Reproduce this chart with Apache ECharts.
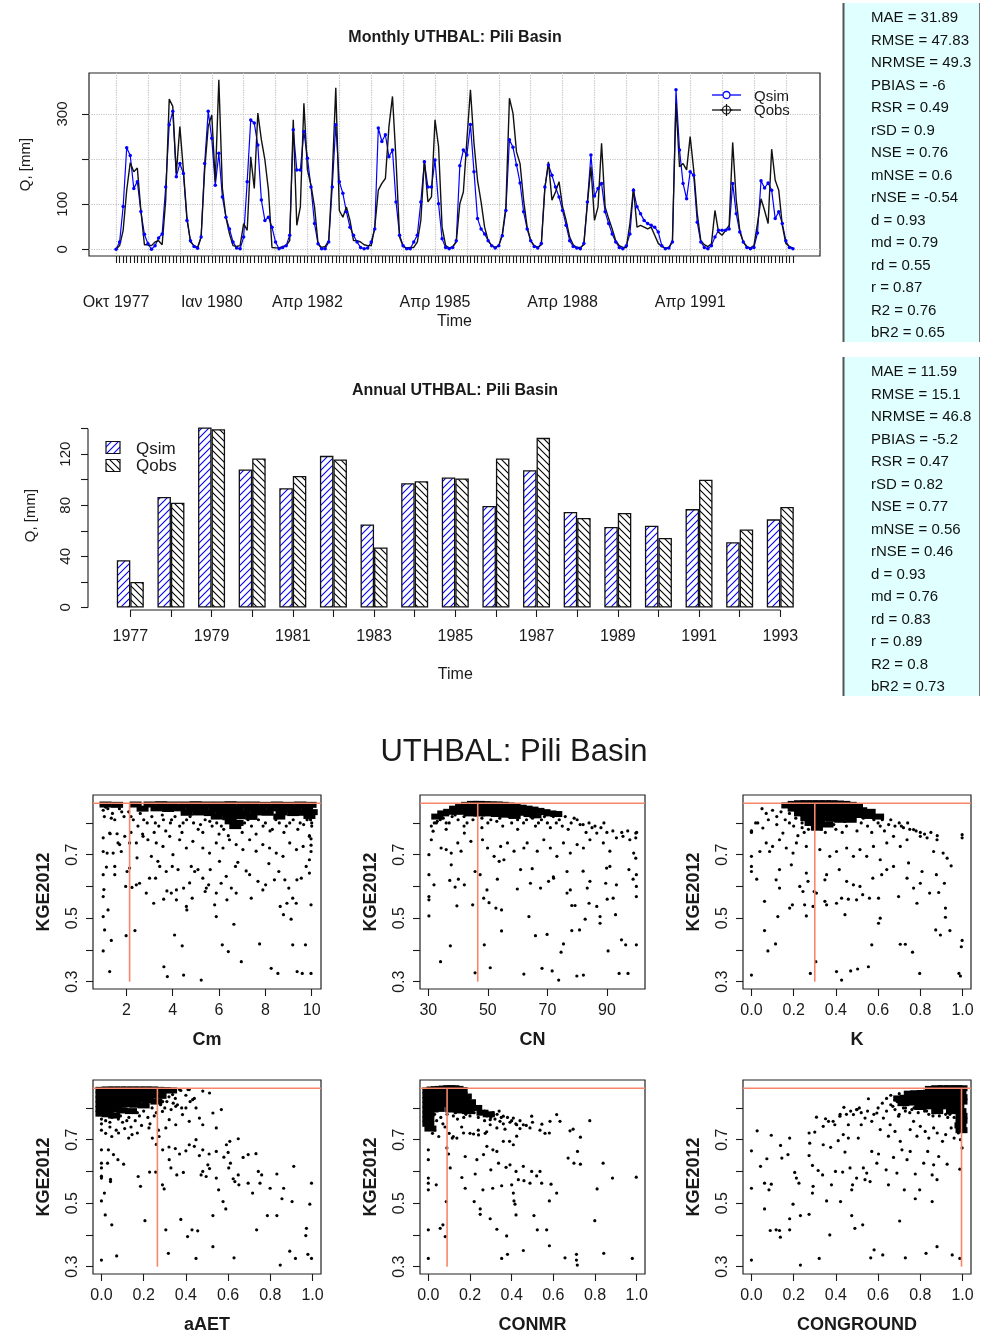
<!DOCTYPE html>
<html>
<head>
<meta charset="utf-8">
<script src="https://cdn.jsdelivr.net/npm/echarts@6/dist/echarts.min.js"></script>
<style>
html, body { margin: 0; background: #fff; }
#main { width: 981px; height: 1333px; }
</style>
</head>
<body>
<div id="main"></div>
<script>
// ---- monthly flows, Oct 1977 .. Sep 1993 (mm) ----
const qsimMonthly = [
  0,16,95,225,208,135,150,84,33,12,0,8,
  25,34,138,276,306,161,190,168,64,19,6,2,
  27,190,306,246,142,213,116,71,45,16,3,1,
  27,150,287,280,231,109,64,71,49,16,1,4,
  8,31,265,176,176,261,202,138,57,12,1,1,
  16,138,276,150,124,83,49,31,16,4,1,3,
  16,45,269,239,254,205,220,105,31,8,1,1,
  16,31,105,194,138,138,198,101,23,4,1,4,
  19,185,220,209,277,172,68,45,34,19,8,3,
  8,30,86,243,226,187,147,83,45,19,6,3,
  13,138,187,164,138,116,86,53,19,6,3,1,
  13,105,209,118,135,146,83,57,34,16,4,1,
  8,34,131,94,79,64,57,53,49,38,8,1,
  3,16,354,220,146,112,172,164,60,16,4,1,
  8,27,42,42,42,45,146,79,38,16,4,1,
  4,36,152,136,147,131,68,83,57,19,4,1
];
const qobsMonthly = [
  0,8,42,131,192,172,180,86,10,10,8,16,
  19,10,109,333,317,168,272,175,71,16,8,4,
  27,176,272,298,150,376,135,71,34,8,6,8,
  57,42,205,135,302,243,198,131,4,3,3,6,
  8,19,287,53,94,324,176,142,94,12,4,6,
  19,161,358,86,71,94,64,19,19,16,10,8,
  8,49,131,146,157,272,339,198,27,6,3,4,
  4,16,64,198,105,116,287,228,49,8,3,6,
  16,101,127,243,354,235,153,105,49,19,8,4,
  8,34,94,335,302,216,190,109,49,19,8,4,
  10,135,194,109,127,150,94,64,27,10,4,4,
  10,101,183,64,94,235,94,68,45,19,8,4,
  4,57,135,49,53,49,45,49,31,13,6,3,
  3,19,324,183,190,176,250,176,79,19,10,6,
  12,86,38,31,42,53,237,109,42,16,6,3,
  8,57,112,86,57,222,153,131,53,13,6,3
];
const monthTickIdx = [0, 27, 54, 90, 126, 162];
const monthTickLabels = ['Οκτ 1977', 'Ιαν 1980', 'Απρ 1982', 'Απρ 1985', 'Απρ 1988', 'Απρ 1991'];

// ---- annual means ----
const years = ['1977','1978','1979','1980','1981','1982','1983','1984','1985','1986','1987','1988','1989','1990','1991','1992','1993'];
const qsimAnnual = [37, 86.5, 141, 108, 93.3, 118.7, 65, 97.3, 101.7, 79.5, 107.5, 74.8, 63, 64, 77, 51, 69];
const qobsAnnual = [20, 82, 139.6, 116.6, 103, 115.8, 47, 98.8, 101, 116.6, 132.8, 70, 74, 54.4, 100, 61, 78.7];

const monthlyStats = ['MAE = 31.89','RMSE = 47.83','NRMSE = 49.3','PBIAS = -6','RSR = 0.49','rSD = 0.9','NSE = 0.76','mNSE = 0.6','rNSE = -0.54','d = 0.93','md = 0.79','rd = 0.55','r = 0.87','R2 = 0.76','bR2 = 0.65'];
const annualStats = ['MAE = 11.59','RMSE = 15.1','NRMSE = 46.8','PBIAS = -5.2','RSR = 0.47','rSD = 0.82','NSE = 0.77','mNSE = 0.56','rNSE = 0.46','d = 0.93','md = 0.76','rd = 0.83','r = 0.89','R2 = 0.8','bR2 = 0.73'];

// ---- dotty plots: parameter value vs KGE2012 ----
const bestKGE = 0.862;
const bestCm = 2.14, bestCN = 46.6, bestK = 0.3, bestAAET = 0.265, bestCONMR = 0.09, bestCONGROUND = 0.995;
const kgeTicks = [0.3, 0.4, 0.5, 0.6, 0.7, 0.8];
const kgeLabels = [0.3, 0.5, 0.7];
const cmTicks = [2, 4, 6, 8, 10];
const cnTicks = [30, 50, 70, 90];
const unitTicks = [0, 0.2, 0.4, 0.6, 0.8, 1.0];

const cmPts = [
  [1.0,.397],[1.28,.332],[1.0,.505],[1.06,.463],[1.21,.526],[1.0,.568],[1.03,.59],[1.0,.637],[1.14,.661],[1.0,.71],[1.17,.705],[1.0,.753],[1.35,.43],[1.43,.705],[1.5,.663],[1.5,.637],[1.64,.737],[1.28,.768],[1.78,.71],[1.93,.758],
  [1.99,.445],[1.97,.6],[2.03,.647],[2.14,.658],[2.24,.597],[2.37,.461],[2.43,.605],[2.46,.69],[2.43,.737],[2.57,.61],[2.86,.579],[2.93,.747],[2.72,.758],[3.0,.626],[3.08,.695],[3.18,.547],[3.26,.626],[3.36,.679],[3.44,.663],[3.61,.56],
  [3.62,.347],[3.77,.316],[3.72,.647],[3.75,.586],[3.94,.579],[3.98,.663],[4.01,.7],[4.08,.447],[4.16,.589],[4.23,.653],[4.16,.558],[4.41,.413],[4.47,.321],[4.47,.595],[4.59,.537],[4.61,.526],[4.73,.611],[4.84,.563],[4.8,.663],[4.95,.647],
  [5.09,.653],[5.23,.305],[5.3,.626],[5.4,.584],[5.45,.595],[5.55,.605],[5.62,.653],[5.81,.542],[5.88,.579],[5.88,.505],[6.02,.679],[6.14,.416],[6.09,.61],[6.31,.632],[6.34,.558],[6.4,.395],[6.53,.595],[6.64,.481],[6.71,.663],[6.74,.579],
  [6.81,.676],[6.96,.363],[7.17,.649],[7.32,.637],[7.39,.563],[7.68,.616],[7.75,.419],[7.89,.589],[8.01,.605],[8.15,.672],[8.25,.342],[8.39,.621],[8.54,.326],[8.58,.647],[8.64,.537],[8.78,.511],[8.84,.621],[8.93,.547],[9.01,.595],[9.11,.497],
  [9.18,.563],[9.18,.416],[9.33,.547],[9.37,.332],[9.36,.621],[9.55,.626],[9.59,.326],[9.73,.416],[9.76,.663],[9.9,.642],[9.97,.542],[9.97,.326],[9.9,.684],[9.97,.71],[9.97,.73],[9.97,.75],
  [1.71,.732],[2.14,.737],[3.29,.737],[3.58,.726],[3.87,.758],[4.3,.747],[4.59,.721],[4.87,.742],[5.3,.721],[5.59,.705],[5.88,.737],[6.17,.721],[6.45,.747],[6.74,.732],[7.03,.716],[7.32,.747],[7.6,.711],[7.89,.732],[8.18,.721],[8.47,.705],
  [8.76,.695],[9.05,.737],[9.34,.716],[9.63,.726],[9.9,.758],
  [1.0,.84],[1.05,.82],[1.2,.845],[1.4,.83],[1.5,.81],[1.7,.845],[1.9,.82],[2.1,.835],[2.3,.81],[2.5,.79],[2.6,.83],[2.9,.8],[3.1,.82],[3.4,.79],[3.6,.81],[3.9,.8],[4.1,.82],[4.3,.79],[4.6,.81],[4.9,.8],
  [5.1,.78],[5.4,.81],[5.7,.79],[5.9,.8],[6.2,.78],[7.1,.8],[7.4,.79],[7.7,.81],[8.0,.8],[8.3,.78],[8.6,.8],[8.9,.79],[9.2,.81],[9.5,.8],[9.8,.81],[10,.8],[10,.79],[1.3,.766],[1.6,.766],[2.2,.77],
  [2.7,.765],[3.2,.77],[3.7,.775],[4.4,.77],[5.3,.77],[6.0,.765],[6.4,.76],[7.0,.77],[7.6,.765],[8.2,.775],[8.8,.77],[9.4,.78],[9.9,.76],
  [1.1,.85],[1.35,.815],[1.8,.835],[2.2,.82],[2.75,.81],[3.25,.8],[3.55,.825],[3.95,.81],[4.45,.8],[4.75,.82],[5.2,.795],[5.6,.805],[6.1,.79],[7.25,.81],[7.9,.79],[8.45,.81],[9.05,.8],[9.65,.795],[9.95,.81],[10,.82]
];
const cmCore = [
  [1.1,.858],[1.6,.857],[2.4,.858],[3.0,.858],[3.5,.859],[4.0,.858],[4.5,.858],[5.0,.859],[5.5,.858],[6.0,.858],[6.5,.859],[7.0,.858],[7.5,.858],[8.0,.857],[8.5,.858],[9.0,.857],[9.5,.858],[9.95,.857],
  [2.7,.845],[3.3,.846],[3.8,.844],[4.3,.846],[4.8,.845],[5.3,.846],[5.8,.844],[6.3,.846],[6.8,.845],[7.3,.846],[7.8,.844],[8.3,.846],[8.8,.845],[9.3,.844],[9.8,.846],
  [4.6,.832],[5.1,.833],[5.6,.831],[6.1,.833],[6.6,.832],[7.1,.831],[7.6,.833],[8.1,.832],[8.7,.833],[9.2,.831],[9.7,.832],[10,.834],
  [5.9,.82],[6.4,.818],[6.9,.821],[7.4,.819],[8.6,.82],[9.9,.822],[6.5,.805],[6.8,.8],[6.7,.79]
];

const cnPts = [
  [30.2,.507],[30.2,.558],[30.2,.568],[30.2,.637],[30.2,.7],[31.9,.605],[34.1,.363],[37.4,.413],[37.2,.619],[37.7,.668],[39,.598],[39.6,.539],[40.1,.623],[42.1,.605],[44.9,.542],[45.7,.328],[45.7,.647],[47.4,.637],[48.6,.563],[48.8,.416],
  [49.7,.589],[50.4,.549],[50.8,.344],[52.7,.532],[53.2,.623],[54.6,.526],[54.6,.46],[53.8,.679],[55.4,.684],[59.9,.592],[61,.653],[62.1,.324],[63.8,.505],[64.3,.61],[64.9,.656],[66,.445],[67.7,.595],[68.2,.342],[69.9,.449],[70.4,.616],
  [71.6,.334],[72.1,.626],[73.8,.305],[74.6,.393],[75.4,.419],[76.6,.579],[77.7,.589],[78.2,.54],[78.2,.461],[79.3,.54],[79.9,.318],[80.8,.463],[82.1,.321],[82.7,.497],[83.4,.595],[84.3,.616],[84,.547],[86.6,.537],[87.7,.505],[87.7,.484],
  [89.6,.61],[90.1,.56],[90.4,.397],[92.1,.563],[92.9,.511],[93.2,.605],[94.1,.326],[94.9,.432],[96.3,.416],[97.1,.326],[97.4,.653],[98.8,.623],[99.9,.416],[99.9,.637],[99.9,.6],[99.9,.568],[99.7,.689],[99,.705],[91,.663],[89.9,.658],
  [82,.648],[76.6,.647],[72,.63],
  [31,.747],[31.6,.774],[32.7,.8],[34.3,.721],[36,.716],[37.7,.705],[39.9,.737],[41,.711],[42.1,.768],[44.3,.742],[48.2,.747],[49.9,.721],[52.1,.695],[54.3,.726],[56.6,.737],[58.8,.711],[62.1,.721],[63.2,.737],[66.6,.711],[68.8,.747],
  [71,.721],[73.2,.695],[75.4,.737],[77.7,.705],[80,.732],[82.1,.721],[84.3,.747],[86.6,.768],[88.8,.737],[91,.711],[93.2,.753],[95.4,.758],[97.7,.747],[99.7,.768],[99.7,.753],
  [31,.79],[32,.8],[34,.81],[36,.8],[38,.82],[40,.81],[42,.82],[45,.81],[48,.815],[51,.81],[54,.815],[57,.82],[60,.81],[62,.8],[65,.815],[68,.81],[70,.8],[72,.82],[74,.81],[76,.82],
  [78,.8],[80,.81],[82,.795],[84,.8],[86,.79],[88,.785],[89,.8],[36,.78],[42,.79],[48,.785],[55,.79],[60,.78],[66,.79],[71,.785],[77,.78],[83,.77],[90,.77],[92,.775],[95,.77],[97,.775],[100,.77],
  [33,.805],[35,.815],[37,.8],[39,.825],[43,.8],[46,.825],[50,.8],[53,.805],[58,.8],[63,.81],[67,.8],[69,.82],[73,.8],[75,.79],[79,.815],[81,.795],[85,.785]
];
const cnCore = [
  [33,.82],[35,.83],[37,.835],[39,.845],[41,.85],[43,.857],[45,.86],[47,.86],[49,.859],[51,.858],[53,.858],[55,.857],[57,.855],[59,.852],[61,.848],[63,.845],[65,.842],[67,.838],[69,.834],[71,.83],[73,.828],
  [40,.835],[42,.84],[44,.845],[46,.845],[48,.845],[50,.845],[52,.844],[54,.842],[56,.84],[58,.838],[60,.836],[62,.832],[64,.828],[66,.824],
  [44,.83],[47,.83],[50,.83],[53,.828],[56,.826],[59,.822]
];

const kPts = [
  [0,.321],[0,.695],[0,.663],[0,.647],[0,.774],[.025,.623],[.062,.553],[.062,.461],[.04,.71],[.078,.397],[.114,.419],[.125,.505],[.117,.621],[.133,.653],[.133,.595],[.181,.532],[.194,.542],[.189,.668],[.229,.6],[.244,.584],
  [.252,.542],[.26,.507],[.26,.642],[.268,.616],[.279,.326],[.292,.537],[.297,.584],[.305,.363],[.308,.579],[.348,.553],[.356,.542],[.348,.621],[.356,.637],[.403,.332],[.403,.547],[.416,.653],[.427,.305],[.427,.563],[.443,.511],[.451,.616],
  [.459,.56],[.47,.334],[.483,.605],[.498,.558],[.503,.34],[.514,.6],[.527,.574],[.554,.347],[.559,.563],[.57,.416],[.575,.626],[.602,.484],[.602,.563],[.61,.5],[.617,.637],[.641,.653],[.673,.663],[.697,.568],[.705,.418],[.729,.418],
  [.737,.626],[.744,.674],[.763,.393],[.768,.595],[.784,.547],[.797,.326],[.8,.61],[.808,.647],[.844,.579],[.873,.463],[.876,.637],[.887,.581],[.895,.447],[.908,.705],[.914,.61],[.919,.532],[.919,.503],[.94,.461],[.946,.665],[.983,.326],
  [.994,.41],[.998,.43],[.998,.763],[.998,.753],[.99,.318],
  [.02,.8],[.054,.784],[.07,.737],[.086,.71],[.1,.726],[.133,.747],[.149,.768],[.165,.721],[.197,.705],[.213,.737],[.26,.726],[.324,.716],[.371,.695],[.403,.71],[.451,.721],[.483,.695],[.514,.716],[.546,.695],[.578,.726],[.61,.684],
  [.641,.737],[.673,.758],[.705,.726],[.737,.747],[.768,.779],[.8,.758],[.832,.753],[.863,.71],[.879,.747],[.927,.689],
  [.05,.845],[.07,.83],[.1,.84],[.12,.82],[.14,.835],[.16,.81],[.08,.81],[.03,.8],[.12,.795],[.18,.8],[.2,.79],[.24,.785],[.6,.8],[.62,.81],[.65,.795],[.68,.79],[.7,.8],[.72,.785],[.75,.78],[.78,.775],
  [.8,.77],[.82,.765],[.85,.77],[.88,.76],[.52,.8],[.55,.79],[.45,.79],[.4,.78],[.35,.77],[.25,.77],[.22,.76],[.5,.775],[.57,.77],[.63,.775],[0,.775],[0,.77],
  [.18,.83],[.21,.815],[.24,.8],[.27,.78],[.33,.78],[.39,.795],[.44,.805],[.49,.81],[.53,.815],[.58,.81],[.61,.79],[.66,.81],[.71,.79],[.74,.8],[.43,.77]
];
const kCore = [
  [.17,.855],[.2,.86],[.23,.862],[.26,.862],[.29,.862],[.32,.862],[.35,.862],[.38,.862],[.41,.861],[.44,.86],[.47,.857],[.5,.853],
  [.2,.845],[.23,.845],[.26,.846],[.29,.845],[.32,.846],[.35,.845],[.38,.846],[.41,.844],[.44,.843],[.47,.84],[.52,.84],[.56,.835],
  [.23,.83],[.26,.83],[.29,.831],[.32,.83],[.35,.829],[.38,.83],[.41,.828],[.45,.826],[.5,.825],[.55,.822],[.6,.82],
  [.26,.815],[.3,.814],[.34,.815],[.38,.813],[.42,.81],[.47,.81],[.28,.8],[.32,.798],[.36,.795],[.31,.785]
];

const aaetPts = [
  [0,.321],[.072,.334],[0,.507],[.014,.532],[.018,.463],[.049,.432],[0,.579],[0,.585],[.043,.568],[.043,.575],[0,.611],[0,.626],[.029,.626],[0,.668],[.033,.668],[.057,.653],[.078,.637],[.105,.623],[.206,.445],[.174,.584],
  [.185,.553],[.228,.598],[.257,.598],[.289,.558],[.297,.545],[.305,.416],[.317,.342],[.321,.637],[.329,.611],[.357,.589],[.376,.449],[.388,.597],[.408,.395],[.429,.416],[.448,.326],[.456,.413],[.472,.589],[.48,.6],[.496,.584],[.504,.621],
  [.512,.609],[.528,.363],[.528,.461],[.544,.579],[.555,.542],[.576,.505],[.589,.482],[.603,.611],[.611,.626],[.624,.577],[.632,.568],[.628,.328],[.648,.589],[.651,.558],[.695,.563],[.716,.532],[.735,.416],[.751,.563],[.743,.6],[.759,.589],
  [.786,.461],[.799,.547],[.831,.461],[.847,.305],[.855,.514],[.863,.547],[.892,.349],[.903,.505],[.911,.616],[.919,.326],[.971,.421],[.968,.398],[.978,.339],[.987,.497],[.995,.563],[.995,.326],[.732,.656],[.831,.592],[.671,.644],[.6,.66],
  [.58,.645],[.544,.663],[.51,.655],[.48,.668],[.464,.65],[.44,.679],[.416,.684],[.4,.665],[.37,.655],[.35,.672],[.32,.677],[.29,.668],[.26,.685],
  [.145,.716],[.17,.721],[.225,.737],[.273,.71],[.305,.737],[.321,.763],[.352,.747],[.384,.779],[.4,.8],[.416,.758],[.432,.826],[.448,.8],[.464,.768],[.48,.747],[.512,.847],[.528,.784],[.544,.737],[.568,.795],[.592,.684],[.608,.695],
  [.648,.703],[.695,.653],[.448,.7],[.48,.853],[.416,.858],[.376,.855],[.337,.842],[.352,.805],[.289,.789],[.241,.705],[.129,.705],[.049,.71],[.081,.721],
  [0,.765],[0,.75],[.02,.76],[.05,.77],[.08,.765],[.1,.755],[.13,.77],[.16,.76],[.18,.775],[.2,.79],[.22,.77],[.24,.8],[.26,.785],[.28,.81],[.3,.8],[.31,.82],[.33,.795],[.35,.83],[.36,.81],[.38,.8],
  [.4,.84],[.42,.82],[.44,.83],[.37,.858],[.41,.858],[0,.73],[.02,.72],[.04,.74],[.07,.73],[.11,.735],[.14,.74],[.19,.745],[.23,.75],[.27,.73],
  [.04,.755],[.09,.775],[.12,.76],[.17,.785],[.21,.805],[.25,.775],[.29,.82],[.32,.835],[.34,.815]
];
const aaetCore = [
  [0,.857],[.03,.858],[.06,.858],[.09,.858],[.12,.858],[.15,.858],[.18,.858],[.21,.858],[.24,.858],[.27,.857],[.3,.856],[.33,.855],
  [0,.842],[.03,.843],[.06,.842],[.09,.843],[.12,.842],[.15,.843],[.18,.842],[.21,.843],[.24,.84],[.28,.838],
  [0,.827],[.03,.828],[.06,.827],[.09,.826],[.12,.828],[.15,.826],[.18,.827],[.22,.825],[.26,.82],
  [0,.812],[.03,.811],[.06,.813],[.09,.81],[.12,.812],[.16,.81],[.2,.808],
  [0,.797],[.03,.796],[.07,.795],[.1,.792],[.14,.79],[0,.782],[.03,.78],[.06,.776]
];

const conmrPts = [
  [0,.326],[0,.416],[0,.542],[0,.563],[0,.579],[0,.637],[0,.668],[.038,.558],[.057,.421],[.07,.432],[.081,.395],[.086,.505],[.089,.674],[.097,.655],[.105,.611],[.161,.581],[.177,.547],[.177,.647],[.22,.505],[.225,.592],
  [.249,.482],[.249,.465],[.262,.542],[.297,.451],[.3,.605],[.309,.547],[.329,.418],[.337,.626],[.352,.555],[.352,.326],[.376,.397],[.38,.339],[.373,.613],[.392,.621],[.4,.558],[.408,.532],[.411,.507],[.416,.497],[.421,.463],[.421,.6],
  [.432,.574],[.456,.351],[.456,.616],[.459,.571],[.488,.563],[.496,.6],[.507,.461],[.52,.586],[.523,.416],[.536,.6],[.544,.563],[.568,.416],[.581,.507],[.581,.366],[.589,.56],[.616,.532],[.656,.328],[.671,.642],[.699,.626],[.711,.339],
  [.711,.321],[.715,.305],[.716,.663],[.73,.623],[.799,.445],[.81,.545],[.839,.626],[.842,.342],[.884,.579],[.979,.326],[.998,.582],
  [.775,.76],[.73,.708],[.695,.733],[.68,.728],[.632,.758],[.616,.779],[.584,.758],[.581,.721],[.56,.72],[.545,.749],[.536,.73],[.496,.774],[.488,.737],[.456,.747],[.44,.735],[.424,.711],[.408,.684],[.39,.695],[.36,.695],[.329,.663],
  [.31,.668],[.281,.679],[.265,.653],[.233,.637],[.273,.72],[.241,.715],[.217,.718],[.169,.721],[.137,.705],[.115,.705],
  [.265,.784],[.281,.775],[.297,.763],[.313,.778],[.344,.758],[.36,.774],[.392,.755],[.408,.768],[.424,.747],[.297,.747],[.329,.737],[.368,.733],
  [.03,.78],[.06,.77],[.04,.76],[.07,.75],[.08,.74],[.03,.73],[.02,.72],[.05,.71],[.12,.775],[.14,.765],[.17,.77],[.2,.775],[.22,.785],[.24,.77],[.27,.76],[.3,.77],[.32,.765],[.33,.78],[.35,.77],[.36,.75],
  [.38,.77],[.4,.76],[.42,.75],[.44,.76],[.47,.745],[.5,.755],[.16,.74],[.2,.72],[.24,.73],[.28,.725],[.1,.72],[.12,.71],
  [.09,.78],[.13,.785],[.18,.78],[.21,.795],[.25,.8],[.27,.79],[.31,.785],[.34,.79]
];
const conmrCore = [
  [0,.855],[.02,.858],[.04,.859],[.06,.86],[.08,.861],[.1,.862],[.12,.862],[.14,.86],[.16,.856],
  [0,.84],[.02,.842],[.04,.843],[.06,.845],[.08,.845],[.1,.846],[.12,.845],[.14,.843],[.16,.84],[.18,.836],
  [0,.825],[.02,.826],[.04,.828],[.06,.83],[.08,.83],[.1,.83],[.12,.828],[.14,.826],[.17,.822],[.2,.818],
  [0,.81],[.02,.81],[.04,.812],[.07,.814],[.1,.812],[.13,.81],[.16,.807],[.2,.803],[.23,.8],
  [0,.795],[.02,.795],[.05,.797],[.11,.795],[.15,.792],[.19,.79],[.26,.785],[.29,.78],
  [0,.78],[0,.765],[0,.75],[.01,.735]
];

const cgPts = [
  [0,.321],[0,.547],[0,.665],[.027,.728],[.043,.616],[.062,.563],[.062,.482],[.073,.64],[.083,.542],[.089,.414],[.094,.56],[.094,.714],[.117,.416],[.133,.414],[.137,.393],[.138,.682],[.144,.642],[.173,.653],[.181,.416],[.181,.451],
  [.181,.705],[.197,.497],[.205,.597],[.213,.579],[.225,.563],[.232,.305],[.232,.461],[.273,.465],[.273,.65],[.276,.689],[.273,.721],[.289,.619],[.289,.532],[.292,.553],[.3,.724],[.308,.771],[.316,.603],[.321,.326],[.337,.589],[.34,.684],
  [.351,.766],[.356,.507],[.371,.4],[.375,.676],[.379,.558],[.387,.758],[.398,.6],[.411,.697],[.419,.774],[.422,.505],[.432,.598],[.438,.802],[.443,.661],[.459,.705],[.467,.611],[.475,.542],[.475,.461],[.479,.558],[.49,.421],[.498,.579],
  [.506,.705],[.511,.8],[.527,.432],[.53,.611],[.538,.574],[.546,.595],[.554,.829],[.562,.568],[.565,.328],[.57,.663],[.581,.353],[.594,.626],[.602,.655],[.622,.337],[.638,.605],[.649,.558],[.67,.805],[.673,.644],[.689,.595],[.702,.444],
  [.713,.668],[.724,.542],[.729,.328],[.737,.637],[.752,.663],[.776,.592],[.776,.514],[.797,.542],[.816,.626],[.827,.342],[.835,.663],[.856,.589],[.856,.505],[.863,.621],[.879,.574],[.879,.363],[.887,.647],[.927,.623],[.951,.337],[.987,.326],
  [.987,.607],[.998,.674],[.99,.7],
  [.34,.742],[.365,.758],[.395,.747],[.435,.716],[.459,.747],[.483,.779],[.498,.795],[.52,.747],[.538,.768],[.57,.758],[.594,.784],[.61,.732],[.625,.768],[.649,.711],[.657,.747],[.68,.726],[.697,.774],[.705,.695],[.729,.79],[.752,.732],
  [.768,.758],[.784,.711],[.8,.742],[.823,.726],[.84,.705],[.863,.737],[.88,.721],[.905,.695],[.92,.716],[.946,.737],[.96,.705],[.98,.721],[.995,.737],
  [.6,.8],[.62,.815],[.64,.79],[.66,.81],[.68,.795],[.69,.82],[.7,.78],[.73,.8],[.75,.785],[.77,.8],[.79,.785],[.82,.79],[.84,.78],[.86,.775],[.89,.775],[.92,.78],[.93,.77],[.96,.77],[.58,.78],[.55,.79],
  [.52,.785],[.5,.795],[.47,.79],[.45,.78],[.42,.78],[.66,.84],[.7,.845],
  [.72,.8],[.76,.795],[.81,.8],[.83,.79],[.87,.785],[.9,.79],[.94,.78],[.97,.79],[.68,.825],[.64,.83]
];
const cgCore = [
  [.85,.86],[.88,.862],[.91,.862],[.94,.862],[.97,.862],[.995,.862],
  [.75,.845],[.78,.846],[.81,.847],[.84,.848],[.87,.848],[.9,.848],[.93,.848],[.96,.848],[.99,.848],
  [.7,.83],[.73,.832],[.76,.833],[.79,.833],[.82,.834],[.85,.834],[.88,.834],[.91,.834],[.94,.834],[.97,.834],[.995,.834],
  [.72,.815],[.76,.817],[.8,.818],[.84,.819],[.88,.82],[.91,.819],[.94,.82],[.97,.82],[.995,.82],
  [.8,.803],[.85,.805],[.9,.805],[.94,.806],[.98,.805],
  [.88,.79],[.95,.79],[.99,.79],[.995,.775],[.995,.76],[.99,.745],[.995,.73]
];

// ---------------------------------------------------------------
const FF = '"Liberation Sans", Arial, sans-serif';
const INK = '#1a1a1a';
const CORAL = '#f7866a';

function hatch(color, up) {
  const s = 7;
  const c = document.createElement('canvas');
  c.width = s; c.height = s;
  const g = c.getContext('2d');
  g.fillStyle = '#fff';
  g.fillRect(0, 0, s, s);
  g.strokeStyle = color;
  g.lineWidth = 1.1;
  g.beginPath();
  if (up) {
    g.moveTo(-1, s + 1); g.lineTo(s + 1, -1);
    g.moveTo(-1, 1); g.lineTo(1, -1);
    g.moveTo(s - 1, s + 1); g.lineTo(s + 1, s - 1);
  } else {
    g.moveTo(-1, -1); g.lineTo(s + 1, s + 1);
    g.moveTo(s - 1, -1); g.lineTo(s + 1, 1);
    g.moveTo(-1, s - 1); g.lineTo(1, s + 1);
  }
  g.stroke();
  return { image: c, repeat: 'repeat' };
}
const simHatch = hatch('#0000ff', true);
const obsHatch = hatch('#000000', false);

const allMonths = qsimMonthly.map((v, i) => i);
const nineMonths = allMonths.filter(i => i % 9 === 0);

const chart = echarts.init(document.getElementById('main'), null, { renderer: 'canvas' });

const grids = [
  { left: 89, top: 73, width: 731, height: 183 },       // monthly
  { left: 110, top: 421, width: 690.6, height: 189 },    // annual
  { left: 93, top: 795, width: 228, height: 194 },
  { left: 420, top: 795, width: 225, height: 194 },
  { left: 743, top: 795, width: 228, height: 194 },
  { left: 93, top: 1080, width: 228, height: 194 },
  { left: 420, top: 1080, width: 225, height: 194 },
  { left: 743, top: 1080, width: 228, height: 194 }
].map((g, i) => Object.assign({
  show: i !== 1, borderColor: '#222', borderWidth: 1.2, backgroundColor: 'transparent',
  containLabel: false, outerBoundsMode: 'none'
}, g));

const panels = [
  { name: 'Cm', pts: cmPts, core: cmCore, best: bestCm, ticks: cmTicks, min: 0.56, max: 10.4, dec: 0 },
  { name: 'CN', pts: cnPts, core: cnCore, best: bestCN, ticks: cnTicks, min: 27.2, max: 102.8, dec: 0 },
  { name: 'K', pts: kPts, core: kCore, best: bestK, ticks: unitTicks, min: -0.04, max: 1.04, dec: 1 },
  { name: 'aAET', pts: aaetPts, core: aaetCore, best: bestAAET, ticks: unitTicks, min: -0.04, max: 1.04, dec: 1 },
  { name: 'CONMR', pts: conmrPts, core: conmrCore, best: bestCONMR, ticks: unitTicks, min: -0.04, max: 1.04, dec: 1 },
  { name: 'CONGROUND', pts: cgPts, core: cgCore, best: bestCONGROUND, ticks: unitTicks, min: -0.04, max: 1.04, dec: 1 }
];

const tickStyle = { show: true, length: 7, lineStyle: { color: INK, width: 1.1 } };
const dotted = { show: true, lineStyle: { color: '#c4c4c4', type: 'dotted', width: 1.2 } };
const noLine = { show: false, onZero: false };

const xAxes = [
  {
    type: 'value', gridIndex: 0, min: -7.64, max: 198.64,
    axisLine: noLine,
    axisTick: Object.assign({ customValues: allMonths }, tickStyle),
    axisLabel: {
      customValues: monthTickIdx, margin: 39, fontSize: 16, color: INK, fontFamily: FF,
      formatter: v => monthTickLabels[monthTickIdx.indexOf(v)]
    },
    splitLine: { show: false },
    name: 'Time', nameLocation: 'middle', nameGap: 58,
    nameTextStyle: { fontSize: 16, color: INK, fontFamily: FF }
  },
  {
    type: 'value', gridIndex: 0, min: -7.64, max: 198.64,
    axisLine: noLine,
    axisTick: { show: false, customValues: nineMonths },
    axisLabel: { show: false },
    splitLine: dotted
  },
  {
    type: 'category', gridIndex: 1, data: years,
    axisLine: noLine,
    axisTick: Object.assign({ alignWithLabel: true, interval: 0 }, tickStyle),
    axisLabel: { interval: 1, margin: 19, fontSize: 16, color: INK, fontFamily: FF },
    name: 'Time', nameLocation: 'middle', nameGap: 57,
    nameTextStyle: { fontSize: 16, color: INK, fontFamily: FF }
  }
];
const yAxes = [
  {
    type: 'value', gridIndex: 0, min: -15, max: 391,
    axisLine: noLine,
    axisTick: Object.assign({ customValues: [0, 100, 200, 300] }, tickStyle),
    axisLabel: { customValues: [0, 100, 300], rotate: 90, margin: 19, fontSize: 15, color: INK, fontFamily: FF },
    splitLine: dotted,
    name: 'Q, [mm]', nameLocation: 'middle', nameGap: 56, nameRotate: 90,
    nameTextStyle: { fontSize: 15, color: INK, fontFamily: FF }
  },
  {
    type: 'value', gridIndex: 1, min: -2, max: 146, offset: 22,
    axisLine: noLine,
    axisTick: Object.assign({ customValues: [0, 20, 40, 60, 80, 100, 120, 140] }, tickStyle),
    axisLabel: { customValues: [0, 40, 80, 120], rotate: 90, margin: 15, fontSize: 15, color: INK, fontFamily: FF },
    splitLine: { show: false },
    name: 'Q, [mm]', nameLocation: 'middle', nameGap: 50, nameRotate: 90,
    nameTextStyle: { fontSize: 15, color: INK, fontFamily: FF }
  }
];

const series = [
  {
    name: 'Qsim', type: 'line', xAxisIndex: 0, yAxisIndex: 0,
    data: qsimMonthly.map((v, i) => [i, v]),
    symbol: 'circle', symbolSize: 3.5, showSymbol: true,
    lineStyle: { color: '#0000ff', width: 1.2 }, itemStyle: { color: '#0000ff', opacity: 1 }
  },
  {
    name: 'Qobs', type: 'line', xAxisIndex: 0, yAxisIndex: 0,
    data: qobsMonthly.map((v, i) => [i, v]),
    showSymbol: false, lineStyle: { color: '#111', width: 1.4 }
  },
  {
    name: 'Qsim ', type: 'bar', xAxisIndex: 2, yAxisIndex: 1, data: qsimAnnual,
    barWidth: 13.5, barGap: '0%',
    itemStyle: { color: simHatch, borderColor: '#111', borderWidth: 1.3 }
  },
  {
    name: 'Qobs ', type: 'bar', xAxisIndex: 2, yAxisIndex: 1, data: qobsAnnual,
    barWidth: 13.5, barGap: '0%',
    itemStyle: { color: obsHatch, borderColor: '#111', borderWidth: 1.3 }
  }
];

panels.forEach((p, k) => {
  const gi = k + 2;
  xAxes.push({
    type: 'value', gridIndex: gi, min: p.min, max: p.max,
    axisLine: noLine,
    axisTick: Object.assign({ customValues: p.ticks }, tickStyle),
    axisLabel: { customValues: p.ticks, margin: 14, fontSize: 16, color: INK, fontFamily: FF, formatter: v => v.toFixed(p.dec) },
    splitLine: { show: false },
    name: p.name, nameLocation: 'middle', nameGap: 42,
    nameTextStyle: { fontSize: 18, fontWeight: 'bold', color: INK, fontFamily: FF }
  });
  yAxes.push({
    type: 'value', gridIndex: gi, min: 0.277, max: 0.888,
    axisLine: noLine,
    axisTick: Object.assign({ customValues: kgeTicks }, tickStyle),
    axisLabel: { customValues: kgeLabels, rotate: 90, margin: 12, fontSize: 16, color: INK, fontFamily: FF, formatter: v => v.toFixed(1) },
    splitLine: { show: false },
    name: 'KGE2012', nameLocation: 'middle', nameGap: 40, nameRotate: 90,
    nameTextStyle: { fontSize: 18, fontWeight: 'bold', color: INK, fontFamily: FF }
  });
  series.push({
    type: 'scatter', xAxisIndex: gi + 1, yAxisIndex: gi, data: p.core, z: 2,
    symbol: 'rect', symbolSize: [12, 6], itemStyle: { color: '#000', opacity: 1 }, silent: true
  });
  series.push({
    type: 'scatter', xAxisIndex: gi + 1, yAxisIndex: gi, data: p.pts, z: 3,
    symbol: 'circle', symbolSize: 3.2, itemStyle: { color: '#000', opacity: 1 }, silent: true
  });
});

chart.setOption({
  animation: false,
  textStyle: { fontFamily: FF },
  grid: grids,
  xAxis: xAxes,
  yAxis: yAxes,
  series: series
});

// ---- texts, legends, stats boxes, cross-hairs, R-style axis lines ----
const gfx = [];
function txt(t, x, y, size, opts) {
  gfx.push({
    type: 'text', x: x, y: y, silent: true,
    style: Object.assign({ text: t, fontSize: size, fontFamily: FF, fill: INK, align: 'left', verticalAlign: 'middle' }, opts || {})
  });
}
function seg(x1, y1, x2, y2, color, w) {
  gfx.push({ type: 'line', silent: true, z: 100, shape: { x1: x1, y1: y1, x2: x2, y2: y2 }, style: { stroke: color, lineWidth: w } });
}
txt('Monthly UTHBAL: Pili Basin', 455, 38, 16, { align: 'center', fontWeight: 'bold' });
txt('Annual UTHBAL: Pili Basin', 455, 391, 16, { align: 'center', fontWeight: 'bold' });
txt('UTHBAL: Pili Basin', 514, 752, 31, { align: 'center' });

function statsBox(lines, top) {
  gfx.push({ type: 'rect', silent: true, shape: { x: 843, y: top, width: 137, height: 339 }, style: { fill: '#e0ffff' } });
  seg(843.5, top, 843.5, top + 339, '#555', 2);
  seg(979.5, top, 979.5, top + 339, '#777', 1);
  lines.forEach((t, i) => txt(t, 871, top + 15 + i * 22.5, 15, { fill: '#111' }));
}
statsBox(monthlyStats, 3);
statsBox(annualStats, 357);

// monthly legend
seg(712, 95, 741, 95, '#0000ff', 1.3);
gfx.push({ type: 'circle', silent: true, z: 101, shape: { cx: 726.5, cy: 95, r: 3.5 }, style: { fill: '#fff', stroke: '#0000ff', lineWidth: 1.3 } });
seg(712, 110, 741, 110, '#111', 1.3);
gfx.push({ type: 'circle', silent: true, z: 101, shape: { cx: 726.5, cy: 110, r: 4 }, style: { fill: '#fff', stroke: '#111', lineWidth: 1.2 } });
gfx.push({ type: 'line', silent: true, z: 102, shape: { x1: 726.5, y1: 104, x2: 726.5, y2: 116 }, style: { stroke: '#111', lineWidth: 1.2 } });
gfx.push({ type: 'line', silent: true, z: 102, shape: { x1: 720.5, y1: 110, x2: 732.5, y2: 110 }, style: { stroke: '#111', lineWidth: 1.2 } });
txt('Qsim', 754, 97, 15);
txt('Qobs', 754, 111, 15);

// annual legend
gfx.push({ type: 'rect', silent: true, shape: { x: 106, y: 441.5, width: 14, height: 12 }, style: { fill: simHatch, stroke: '#111', lineWidth: 1.2 } });
gfx.push({ type: 'rect', silent: true, shape: { x: 106, y: 459.5, width: 14, height: 12 }, style: { fill: obsHatch, stroke: '#111', lineWidth: 1.2 } });
txt('Qsim', 136, 449, 17);
txt('Qobs', 136, 466, 17);

// R-style axis lines of the annual plot (first tick to last tick)
const xa = chart.convertToPixel({ xAxisIndex: 2 }, years[0]);
const xb = chart.convertToPixel({ xAxisIndex: 2 }, years[years.length - 1]);
const yBase = grids[1].top + grids[1].height;
seg(xa, yBase, xb, yBase, INK, 1.1);
const ya = chart.convertToPixel({ yAxisIndex: 1 }, 0);
const yb = chart.convertToPixel({ yAxisIndex: 1 }, 140);
const yAxX = grids[1].left - 22;
seg(yAxX, ya, yAxX, yb, INK, 1.1);

// best-run cross-hairs, drawn on top of the dots
panels.forEach((p, k) => {
  const gi = k + 2;
  const g = grids[gi];
  const yBest = chart.convertToPixel({ yAxisIndex: gi }, bestKGE);
  const yLow = chart.convertToPixel({ yAxisIndex: gi }, 0.3);
  const xBest = chart.convertToPixel({ xAxisIndex: gi + 1 }, p.best);
  seg(g.left, yBest, g.left + g.width, yBest, CORAL, 1.6);
  seg(xBest, yLow, xBest, yBest, CORAL, 1.6);
});

chart.setOption({ graphic: { elements: gfx } });
</script>
</body>
</html>
